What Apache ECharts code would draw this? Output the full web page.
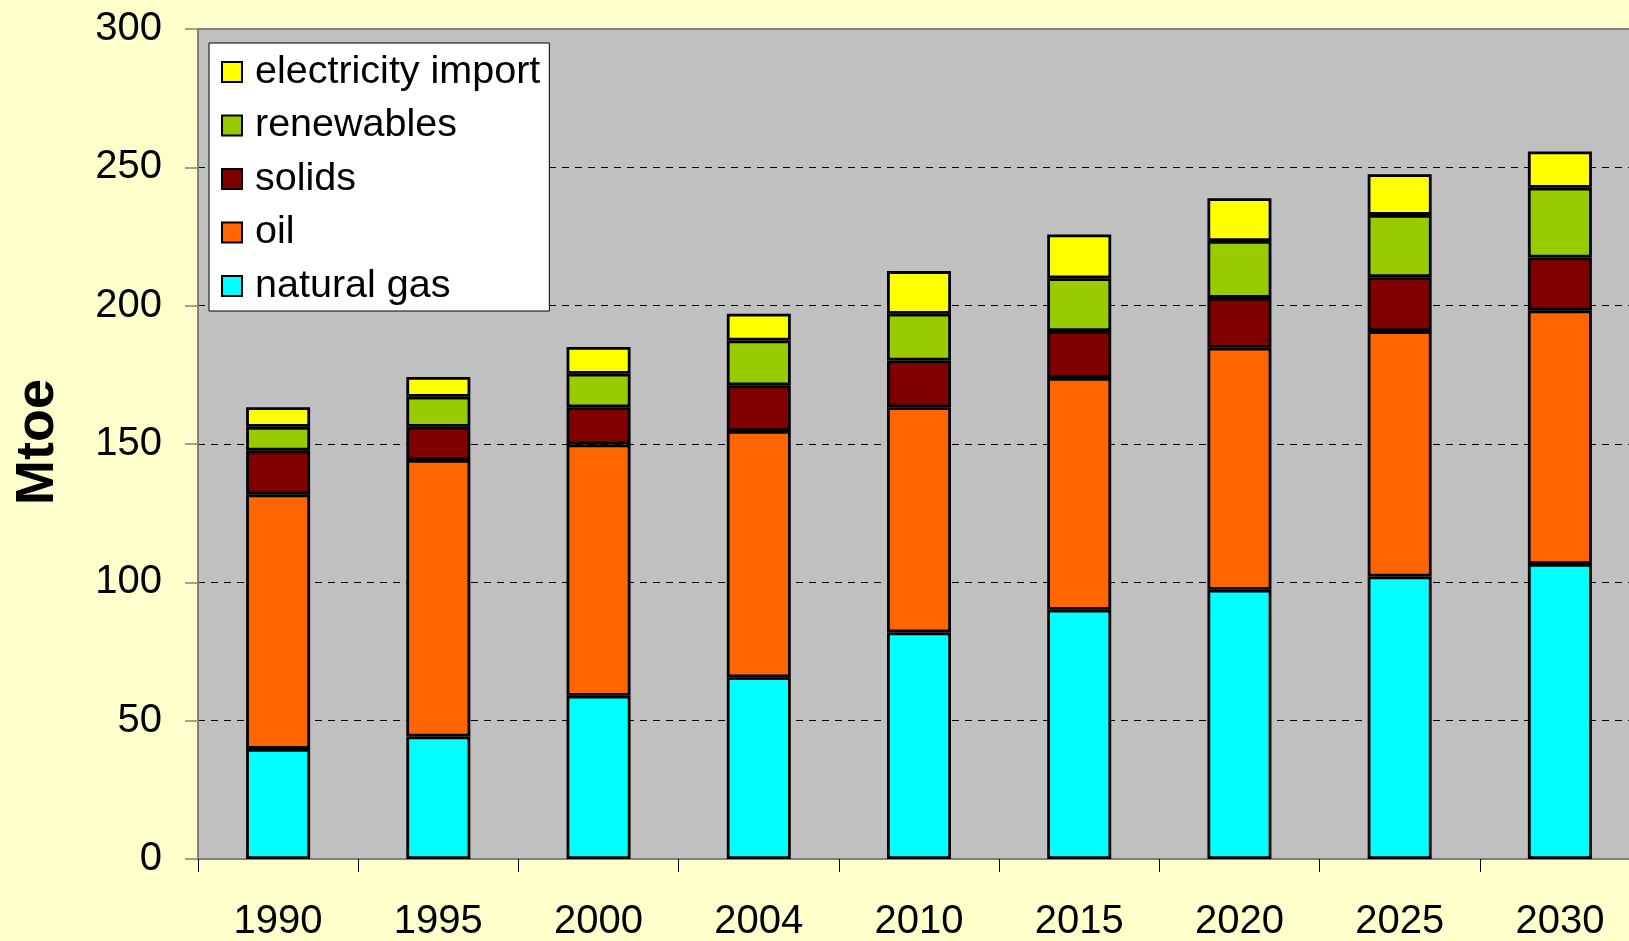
<!DOCTYPE html>
<html>
<head>
<meta charset="utf-8">
<script src="https://cdn.jsdelivr.net/npm/echarts@6/dist/echarts.min.js"></script>
<style>
html,body{margin:0;padding:0;background:#FFFFCC;}
#chart{width:1629px;height:941px;}
</style>
</head>
<body>
<div id="chart"></div>
<script>
const years = ['1990','1995','2000','2004','2010','2015','2020','2025','2030'];
const naturalGas = [39.8, 44.3, 59.0, 65.7, 81.9, 90.1, 97.3, 102.1, 106.6];
const oil        = [92.0, 99.9, 90.8, 89.0, 81.4, 83.8, 87.5, 88.7, 91.7];
const solids     = [15.8, 12.0, 13.5, 16.5, 16.9, 16.9, 18.0, 19.5, 19.1];
const renewables = [8.6, 10.9, 12.1, 16.2, 16.9, 19.1, 20.6, 22.5, 25.2];
const electricityImport = [7.1, 7.1, 9.7, 9.7, 15.4, 15.8, 15.4, 14.7, 13.1];
const yTicks = [0, 50, 100, 150, 200, 250, 300];

const font = 'Liberation Sans, Arial, sans-serif';
const chart = echarts.init(document.getElementById('chart'), null, {renderer: 'canvas'});

function barSeries(name, data, color) {
  return {
    name: name,
    type: 'bar',
    stack: 'total',
    data: data,
    barWidth: 64,
    itemStyle: {color: color, borderColor: '#000', borderWidth: 2.8},
    emphasis: {disabled: true},
    animation: false
  };
}

chart.setOption({
  backgroundColor: '#FFFFCC',
  animation: false,
  grid: {
    left: 198, top: 29, width: 1442, bottom: 82,
    outerBoundsMode: 'none',
    containLabel: false,
    show: true, backgroundColor: '#C0C0C0', borderColor: '#808080', borderWidth: 2
  },
  legend: {
    orient: 'vertical',
    left: 209, top: 43,
    padding: [9, 9, 5, 12],
    backgroundColor: '#FFFFFF',
    borderColor: '#000000',
    borderWidth: 1,
    itemWidth: 20, itemHeight: 20,
    itemGap: 13.5,
    icon: 'rect',
    data: ['electricity import', 'renewables', 'solids', 'oil', 'natural gas'],
    textStyle: {fontFamily: font, fontSize: 39.5, color: '#000', padding: [0, 0, 0, 8]}
  },
  xAxis: {
    type: 'category',
    data: years,
    axisLine: {lineStyle: {color: '#808080', width: 2}},
    axisTick: {show: true, length: 13, lineStyle: {color: '#000', width: 1}},
    axisLabel: {fontFamily: font, fontSize: 40, color: '#000', margin: 43, lineHeight: 40}
  },
  yAxis: {
    type: 'value',
    min: yTicks[0], max: yTicks[yTicks.length - 1], interval: 50,
    axisLine: {show: true, lineStyle: {color: '#808080', width: 2}},
    axisTick: {show: true, length: 13, lineStyle: {color: '#808080', width: 1.5}},
    axisLabel: {fontFamily: font, fontSize: 40, color: '#000', margin: 36},
    splitLine: {show: true, showMaxLine: false, showMinLine: false, lineStyle: {color: '#000', width: 1, type: [7, 6]}}
  },
  graphic: [{
    type: 'text',
    x: 38, y: 442,
    rotation: Math.PI / 2,
    style: {
      text: 'Mtoe', fontFamily: font, fontWeight: 'bold', fontSize: 54,
      fill: '#000', textAlign: 'center', textVerticalAlign: 'middle'
    }
  }],
  series: [
    barSeries('natural gas', naturalGas, '#00FFFF'),
    barSeries('oil', oil, '#FF6600'),
    barSeries('solids', solids, '#800000'),
    barSeries('renewables', renewables, '#99CC00'),
    barSeries('electricity import', electricityImport, '#FFFF00')
  ]
});
</script>
</body>
</html>
